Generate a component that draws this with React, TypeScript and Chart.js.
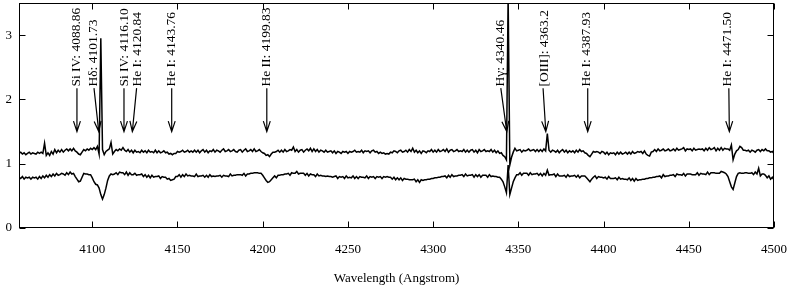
import React, { useEffect, useRef } from "react";
import { Chart, registerables } from "chart.js";

Chart.register(...registerables);

// Wavelength grid (Angstrom), 1 Å sampling
const WL_START = 4057;
const WL_MIN = 4057;
const WL_MAX = 4500;
const Y_MIN = 0;
const Y_MAX = 3.5;

const X_TICKS = [4100, 4150, 4200, 4250, 4300, 4350, 4400, 4450, 4500];
const Y_TICKS = [0, 1, 2, 3];

// Upper spectrum (offset), 4057..4500
const UPPER = [
  1.16, 1.18, 1.15, 1.17, 1.14, 1.16, 1.18, 1.15, 1.17, 1.16,
  1.15, 1.18, 1.16, 1.18, 1.16, 1.32, 1.13, 1.17, 1.13, 1.19,
  1.15, 1.22, 1.17, 1.21, 1.18, 1.22, 1.18, 1.21, 1.23, 1.20,
  1.23, 1.20, 1.24, 1.20, 1.18, 1.15, 1.14, 1.18, 1.22, 1.20,
  1.23, 1.21, 1.24, 1.22, 1.25, 1.22, 1.27, 1.15, 2.95, 1.22,
  1.14, 1.19, 1.21, 1.23, 1.33, 1.15, 1.19, 1.22, 1.20, 1.23,
  1.21, 1.25, 1.21, 1.19, 1.22, 1.18, 1.21, 1.17, 1.21, 1.18,
  1.19, 1.17, 1.21, 1.18, 1.20, 1.17, 1.21, 1.18, 1.19, 1.17,
  1.21, 1.17, 1.20, 1.17, 1.18, 1.20, 1.17, 1.18, 1.15, 1.16,
  1.14, 1.16, 1.16, 1.19, 1.18, 1.19, 1.21, 1.18, 1.19, 1.21,
  1.18, 1.20, 1.18, 1.21, 1.18, 1.21, 1.17, 1.20, 1.22, 1.18,
  1.21, 1.17, 1.20, 1.19, 1.22, 1.18, 1.21, 1.20, 1.18, 1.21,
  1.23, 1.19, 1.20, 1.22, 1.19, 1.20, 1.22, 1.19, 1.18, 1.21,
  1.22, 1.18, 1.21, 1.23, 1.19, 1.20, 1.22, 1.19, 1.23, 1.19,
  1.20, 1.22, 1.19, 1.17, 1.16, 1.13, 1.14, 1.11, 1.15, 1.18,
  1.18, 1.19, 1.21, 1.18, 1.21, 1.18, 1.22, 1.19, 1.20, 1.22,
  1.21, 1.26, 1.19, 1.22, 1.18, 1.21, 1.22, 1.18, 1.21, 1.23,
  1.20, 1.24, 1.19, 1.23, 1.19, 1.22, 1.18, 1.21, 1.20, 1.18,
  1.21, 1.18, 1.19, 1.20, 1.17, 1.20, 1.16, 1.19, 1.18, 1.16,
  1.19, 1.18, 1.19, 1.16, 1.19, 1.18, 1.19, 1.21, 1.18, 1.19,
  1.18, 1.21, 1.17, 1.20, 1.19, 1.20, 1.17, 1.20, 1.21, 1.18,
  1.19, 1.16, 1.18, 1.16, 1.17, 1.15, 1.16, 1.15, 1.18, 1.17,
  1.20, 1.19, 1.17, 1.20, 1.21, 1.18, 1.19, 1.21, 1.18, 1.22,
  1.19, 1.24, 1.18, 1.21, 1.17, 1.20, 1.16, 1.20, 1.19, 1.17,
  1.20, 1.19, 1.22, 1.18, 1.21, 1.18, 1.22, 1.19, 1.20, 1.22,
  1.19, 1.23, 1.18, 1.21, 1.22, 1.19, 1.20, 1.22, 1.19, 1.20,
  1.19, 1.22, 1.18, 1.21, 1.18, 1.21, 1.22, 1.18, 1.21, 1.17,
  1.22, 1.19, 1.20, 1.22, 1.19, 1.20, 1.19, 1.22, 1.18, 1.21,
  1.17, 1.20, 1.16, 1.17, 1.13, 1.11, 1.06, 3.60, 0.98, 1.10,
  1.18, 1.24, 1.20, 1.21, 1.22, 1.18, 1.21, 1.20, 1.21, 1.23,
  1.20, 1.21, 1.22, 1.19, 1.22, 1.19, 1.22, 1.19, 1.23, 1.20,
  1.47, 1.21, 1.18, 1.21, 1.20, 1.18, 1.21, 1.17, 1.20, 1.22,
  1.18, 1.21, 1.17, 1.20, 1.18, 1.20, 1.17, 1.21, 1.18, 1.22,
  1.19, 1.20, 1.17, 1.16, 1.13, 1.11, 1.15, 1.19, 1.18, 1.19,
  1.18, 1.16, 1.19, 1.18, 1.15, 1.18, 1.14, 1.17, 1.16, 1.17,
  1.14, 1.18, 1.15, 1.18, 1.15, 1.16, 1.18, 1.15, 1.18, 1.15,
  1.19, 1.16, 1.17, 1.19, 1.18, 1.19, 1.16, 1.20, 1.15, 1.13,
  1.12, 1.18, 1.19, 1.22, 1.19, 1.23, 1.20, 1.21, 1.23, 1.20,
  1.21, 1.23, 1.20, 1.21, 1.23, 1.20, 1.24, 1.21, 1.22, 1.23,
  1.25, 1.20, 1.23, 1.22, 1.23, 1.20, 1.24, 1.21, 1.22, 1.23,
  1.22, 1.23, 1.20, 1.24, 1.21, 1.25, 1.22, 1.23, 1.25, 1.20,
  1.24, 1.21, 1.25, 1.21, 1.24, 1.23, 1.23, 1.21, 1.29, 1.06,
  1.15, 1.20, 1.22, 1.27, 1.25, 1.21, 1.21, 1.20, 1.21, 1.18,
  1.21, 1.20, 1.18, 1.21, 1.22, 1.19, 1.22, 1.20, 1.23, 1.20,
  1.20, 1.18, 1.19, 1.16,
];

// Lower spectrum, values, 4057..4500
const LOWER = [
  0.79, 0.77, 0.80, 0.76, 0.79, 0.78, 0.79, 0.76, 0.79, 0.78,
  0.79, 0.76, 0.80, 0.77, 0.81, 0.78, 0.82, 0.79, 0.83, 0.80,
  0.84, 0.81, 0.85, 0.82, 0.83, 0.85, 0.84, 0.82, 0.86, 0.83,
  0.87, 0.84, 0.85, 0.80, 0.76, 0.72, 0.73, 0.79, 0.85, 0.84,
  0.84, 0.83, 0.83, 0.78, 0.72, 0.68, 0.67, 0.62, 0.52, 0.45,
  0.52, 0.62, 0.74, 0.81, 0.84, 0.83, 0.84, 0.86, 0.83, 0.87,
  0.86, 0.86, 0.83, 0.87, 0.82, 0.86, 0.83, 0.83, 0.85, 0.82,
  0.83, 0.83, 0.84, 0.80, 0.83, 0.79, 0.82, 0.78, 0.82, 0.79,
  0.80, 0.80, 0.81, 0.77, 0.80, 0.79, 0.79, 0.76, 0.77, 0.74,
  0.75, 0.76, 0.80, 0.80, 0.83, 0.79, 0.83, 0.80, 0.84, 0.81,
  0.82, 0.81, 0.81, 0.80, 0.84, 0.80, 0.81, 0.81, 0.82, 0.79,
  0.82, 0.79, 0.83, 0.80, 0.81, 0.80, 0.81, 0.81, 0.82, 0.79,
  0.82, 0.81, 0.81, 0.80, 0.84, 0.81, 0.82, 0.82, 0.83, 0.83,
  0.83, 0.82, 0.85, 0.81, 0.84, 0.84, 0.85, 0.85, 0.86, 0.86,
  0.86, 0.85, 0.85, 0.82, 0.78, 0.74, 0.71, 0.72, 0.75, 0.78,
  0.81, 0.78, 0.82, 0.82, 0.83, 0.83, 0.84, 0.84, 0.85, 0.82,
  0.86, 0.85, 0.85, 0.88, 0.84, 0.85, 0.85, 0.85, 0.82, 0.85,
  0.81, 0.84, 0.83, 0.83, 0.80, 0.84, 0.81, 0.82, 0.81, 0.81,
  0.80, 0.81, 0.80, 0.80, 0.79, 0.80, 0.81, 0.77, 0.80, 0.79,
  0.80, 0.77, 0.81, 0.78, 0.79, 0.78, 0.81, 0.77, 0.80, 0.77,
  0.80, 0.79, 0.79, 0.78, 0.81, 0.77, 0.80, 0.79, 0.80, 0.77,
  0.80, 0.79, 0.80, 0.77, 0.80, 0.79, 0.80, 0.79, 0.79, 0.76,
  0.79, 0.75, 0.78, 0.75, 0.78, 0.74, 0.77, 0.76, 0.76, 0.75,
  0.75, 0.75, 0.76, 0.72, 0.75, 0.71, 0.75, 0.74, 0.75, 0.75,
  0.76, 0.76, 0.77, 0.77, 0.78, 0.78, 0.79, 0.79, 0.80, 0.80,
  0.81, 0.78, 0.82, 0.79, 0.83, 0.80, 0.81, 0.81, 0.82, 0.82,
  0.83, 0.80, 0.84, 0.81, 0.82, 0.82, 0.83, 0.79, 0.83, 0.80,
  0.83, 0.79, 0.82, 0.82, 0.82, 0.79, 0.83, 0.80, 0.81, 0.80,
  0.80, 0.79, 0.79, 0.76, 0.72, 0.64, 0.55, 0.98, 0.52, 0.62,
  0.72, 0.78, 0.83, 0.83, 0.86, 0.82, 0.85, 0.85, 0.85, 0.82,
  0.86, 0.83, 0.84, 0.84, 0.85, 0.82, 0.85, 0.81, 0.85, 0.82,
  0.90, 0.82, 0.83, 0.83, 0.84, 0.80, 0.84, 0.81, 0.81, 0.81,
  0.82, 0.79, 0.83, 0.80, 0.81, 0.81, 0.82, 0.79, 0.82, 0.78,
  0.81, 0.81, 0.81, 0.78, 0.75, 0.72, 0.76, 0.79, 0.81, 0.77,
  0.80, 0.79, 0.79, 0.78, 0.79, 0.76, 0.80, 0.77, 0.77, 0.77,
  0.78, 0.75, 0.79, 0.76, 0.77, 0.76, 0.76, 0.75, 0.78, 0.74,
  0.77, 0.73, 0.77, 0.74, 0.75, 0.75, 0.76, 0.76, 0.77, 0.77,
  0.78, 0.78, 0.79, 0.79, 0.80, 0.80, 0.81, 0.78, 0.83, 0.80,
  0.81, 0.81, 0.82, 0.82, 0.83, 0.80, 0.84, 0.83, 0.83, 0.82,
  0.85, 0.81, 0.84, 0.84, 0.84, 0.83, 0.83, 0.83, 0.86, 0.82,
  0.85, 0.84, 0.84, 0.83, 0.87, 0.83, 0.86, 0.86, 0.86, 0.85,
  0.85, 0.85, 0.88, 0.87, 0.86, 0.84, 0.80, 0.72, 0.64, 0.60,
  0.70, 0.80, 0.85, 0.86, 0.85, 0.85, 0.86, 0.86, 0.85, 0.85,
  0.86, 0.83, 0.87, 0.84, 0.93, 0.81, 0.84, 0.84, 0.82, 0.78,
  0.81, 0.76, 0.79, 0.75,
];

// Line identifications
const LINE_NAMES = [
  "Si IV: 4088.86",
  "Hδ: 4101.73",
  "Si IV: 4116.10",
  "He I: 4120.84",
  "He I: 4143.76",
  "He II: 4199.83",
  "Hγ: 4340.46",
  "[OIII]: 4363.2",
  "He I: 4387.93",
  "He I: 4471.50",
];
const LABEL_WL = [4090.9, 4100.6, 4118.6, 4126.4, 4146.6, 4202.4, 4339.3, 4365.5, 4390.2, 4472.9];
const ARROW_FROM_WL = [4091.0, 4101.0, 4118.6, 4126.0, 4146.6, 4202.4, 4339.7, 4364.5, 4390.7, 4473.5];
const ARROW_TIP_WL = [4091.0, 4103.8, 4118.6, 4123.5, 4146.6, 4202.4, 4343.2, 4366.1, 4390.7, 4473.8];
const LABEL_BASE_Y = 2.2;
const ARROW_TOP_Y = 2.175;
const ARROW_TIP_Y = 1.5;

const SERIF = '"Liberation Serif", "Times New Roman", Times, serif';

const annotatePlugin = {
  id: "annotateFrame",
  afterDatasetsDraw(chart: any) {
    const { ctx, chartArea: a, scales } = chart;
    const xs = scales.x;
    const ys = scales.y;
    ctx.save();
    ctx.strokeStyle = "#000";
    ctx.fillStyle = "#000";
    ctx.lineWidth = 1;
    // frame
    const L = Math.round(a.left) + 0.5;
    const R = Math.round(a.right) - 0.5;
    const T = Math.round(a.top) + 0.5;
    const B = Math.round(a.bottom) - 0.5;
    ctx.strokeRect(L, T, R - L, B - T);
    // inward ticks, mirrored on top and right
    const TL = 6;
    ctx.beginPath();
    X_TICKS.forEach((v) => {
      const px = Math.round(xs.getPixelForValue(v)) + 0.5;
      ctx.moveTo(px, B);
      ctx.lineTo(px, B - TL);
      ctx.moveTo(px, T);
      ctx.lineTo(px, T + TL);
    });
    Y_TICKS.forEach((v) => {
      const py = Math.round(ys.getPixelForValue(v)) + 0.5;
      ctx.moveTo(L, py);
      ctx.lineTo(L + TL, py);
      ctx.moveTo(R, py);
      ctx.lineTo(R - TL, py);
    });
    ctx.stroke();

    // arrows and line labels
    ctx.lineWidth = 1.2;
    const yTop = ys.getPixelForValue(ARROW_TOP_Y);
    const yTip = ys.getPixelForValue(ARROW_TIP_Y);
    const yLab = ys.getPixelForValue(LABEL_BASE_Y);
    LINE_NAMES.forEach((name, i) => {
      const x0 = xs.getPixelForValue(ARROW_FROM_WL[i]);
      const x1 = xs.getPixelForValue(ARROW_TIP_WL[i]);
      ctx.beginPath();
      ctx.moveTo(x0, yTop);
      ctx.lineTo(x1, yTip);
      const ang = Math.atan2(yTip - yTop, x1 - x0);
      const hl = 11;
      const spread = 0.32;
      ctx.moveTo(x1 - hl * Math.cos(ang - spread), yTip - hl * Math.sin(ang - spread));
      ctx.lineTo(x1, yTip);
      ctx.lineTo(x1 - hl * Math.cos(ang + spread), yTip - hl * Math.sin(ang + spread));
      ctx.stroke();

      const lx = xs.getPixelForValue(LABEL_WL[i]);
      ctx.save();
      ctx.translate(lx, yLab);
      ctx.rotate(-Math.PI / 2);
      ctx.font = `13.5px ${SERIF}`;
      ctx.textAlign = "left";
      ctx.textBaseline = "middle";
      ctx.fillText(name, 0, 0);
      ctx.restore();
    });
    ctx.restore();
  },
};

export default function App() {
  const ref = useRef<HTMLCanvasElement | null>(null);
  useEffect(() => {
    if (!ref.current) return;
    const chart = new Chart(ref.current, {
      type: "line",
      data: {
        datasets: [
          {
            label: "upper",
            data: UPPER.map((v, i) => ({ x: WL_START + i, y: v })),
            borderColor: "#000",
            borderWidth: 1.5,
            pointRadius: 0,
            tension: 0,
            fill: false,
          },
          {
            label: "lower",
            data: LOWER.map((v, i) => ({ x: WL_START + i, y: v })),
            borderColor: "#000",
            borderWidth: 1.5,
            pointRadius: 0,
            tension: 0,
            fill: false,
          },
        ],
      },
      options: {
        animation: false,
        responsive: false,
        devicePixelRatio: 1,
        layout: { padding: { left: 0, right: 15, top: 3, bottom: 0 } },
        plugins: {
          legend: { display: false },
          tooltip: { enabled: false },
        },
        events: [],
        scales: {
          x: {
            type: "linear",
            min: WL_MIN,
            max: WL_MAX,
            grid: { display: false, drawTicks: false },
            border: { display: false },
            afterBuildTicks: (s: any) => {
              s.ticks = X_TICKS.map((v) => ({ value: v }));
            },
            afterFit: (s: any) => {
              s.height = 60;
              s.paddingLeft = 0;
              s.paddingRight = 0;
            },
            ticks: {
              color: "#000",
              font: { family: SERIF, size: 13 },
              padding: 14,
              maxRotation: 0,
              autoSkip: false,
              callback: (v: any) => String(v),
            },
            title: {
              display: true,
              text: "Wavelength (Angstrom)",
              color: "#000",
              font: { family: SERIF, size: 13 },
              padding: { top: 0, bottom: 2 },
            },
          },
          y: {
            type: "linear",
            min: Y_MIN,
            max: Y_MAX,
            grid: { display: false, drawTicks: false },
            border: { display: false },
            afterBuildTicks: (s: any) => {
              s.ticks = Y_TICKS.map((v) => ({ value: v }));
            },
            afterFit: (s: any) => {
              s.width = 19;
              s.paddingTop = 0;
              s.paddingBottom = 0;
            },
            ticks: {
              color: "#000",
              font: { family: SERIF, size: 13 },
              padding: 7,
              callback: (v: any) => String(v),
            },
          },
        },
      },
      plugins: [annotatePlugin],
    });
    return () => chart.destroy();
  }, []);
  return (
    <div style={{ position: "fixed", left: 0, top: 0, width: 789, height: 288, background: "#fff" }}>
      <canvas ref={ref} width={789} height={288} />
    </div>
  );
}
